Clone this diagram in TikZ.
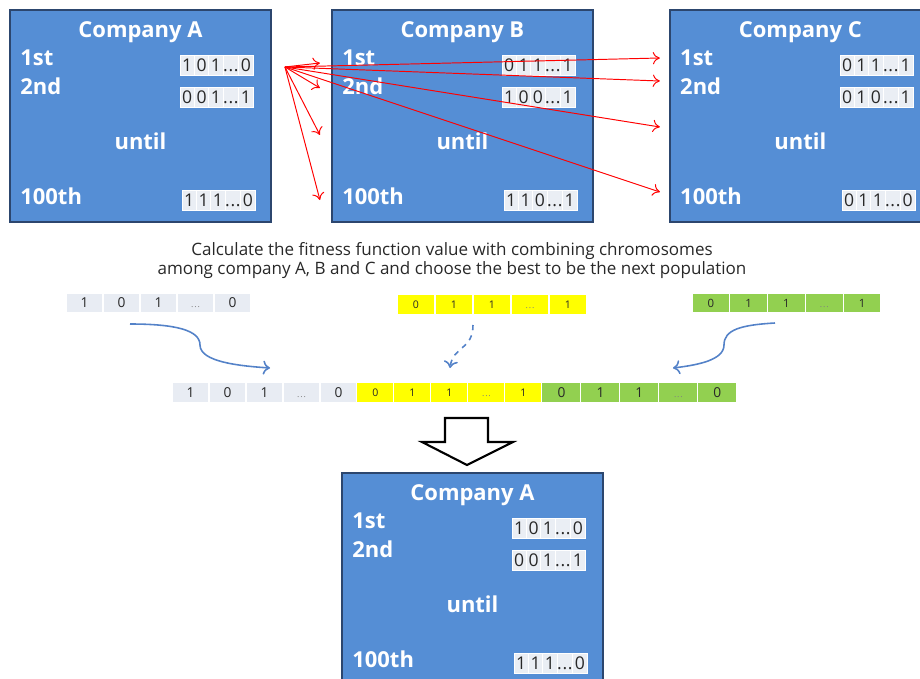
\documentclass[tikz,border=0pt]{standalone}
\usepackage{fontspec}
\setmainfont{Open Sans}
\usepackage{tikz}
\usetikzlibrary{positioning}
\usetikzlibrary{calc}
\usetikzlibrary{arrows.meta}
\definecolor{boxblue}{RGB}{85,142,213}
\definecolor{boxborder}{RGB}{44,70,110}
\definecolor{bitgray}{RGB}{234,238,244}
\definecolor{genegray}{RGB}{232,236,243}
\definecolor{genegreen}{RGB}{146,208,80}
\definecolor{geneyellow}{RGB}{255,255,0}
\definecolor{flowblue}{RGB}{84,130,200}
\definecolor{darktext}{RGB}{40,40,40}
\tikzstyle{company} = [draw=boxborder, fill=boxblue, line width=1.2pt, rectangle, minimum width=5.22cm, minimum height=4.24cm, inner sep=0pt, outer sep=0pt]
\tikzstyle{boxtext} = [text=white, font=\fontsize{12.5}{14}\selectfont\bfseries, inner sep=0pt]
\tikzstyle{bit} = [fill=bitgray, draw=white, line width=0.4pt, rectangle, minimum width=0.288cm, minimum height=0.4cm, inner sep=0pt, outer sep=0pt, text=darktext, font=\fontsize{10}{10}\selectfont]
\tikzstyle{gene} = [draw=white, line width=0.6pt, rectangle, minimum width=0.74cm, minimum height=0.4cm, inner sep=0pt, outer sep=0pt, text=darktext, font=\fontsize{7.8}{8}\selectfont]
\tikzstyle{coord} = [coordinate]
\tikzstyle{note} = [align=center, font=\fontsize{9.7}{10.8}\selectfont, text=darktext]
\tikzstyle{link} = [-{To[length=4pt,width=7pt]}, red, line width=0.55pt]
\tikzstyle{flow} = [-{To[length=4pt,width=8pt]}, flowblue, line width=0.9pt]
\tikzstyle{bigarrow} = [draw=black, fill=white, line width=1.2pt]
\newcommand{\trail}{\vphantom{0}.\kern0.4pt.\kern0.4pt.}
\newcommand{\gap}{\vphantom{0}\textcolor{gray}{\fontsize{5}{5}\selectfont .\kern0.5pt.\kern0.5pt.}}
% a row of cells: name, start, style, values
\newcommand{\bitrow}[4]{%
    \foreach \bitval [count=\i] in {#4} {
        \ifnum\i=1
            \node[#3, anchor=west] (#1-\i) at (#2) {\bitval};
        \else
            \pgfmathtruncatemacro{\j}{\i-1}
            \node[#3, right=0pt of #1-\j] (#1-\i) {\bitval};
        \fi
    }}
% labels and chromosomes inside one company box
\newcommand{\company}[5]{%
    \node[boxtext] (#1-title) at ($(#1.north)+(0,22)$) {#2};
    \node[boxtext, anchor=west] (#1-1st) at ($(#1.north west)+(10,48)$) {1st};
    \node[boxtext, anchor=west] (#1-2nd) at ($(#1.north west)+(10,76)$) {2nd};
    \node[boxtext] (#1-until) at ($(#1.north)+(0,131)$) {until};
    \node[boxtext, anchor=west] (#1-100th) at ($(#1.north west)+(10,186)$) {100th};
    \bitrow{#1-r1}{$(#1.north west)+(170,55.5)$}{bit}{#3}
    \bitrow{#1-r2}{$(#1.north west)+(170,87)$}{bit}{#4}
    \bitrow{#1-r3}{$(#1.north west)+(172,190)$}{bit}{#5}
}

\begin{document}
\begin{tikzpicture}[x=0.02cm, y=-0.02cm]
    \useasboundingbox (0,0) rectangle (920,679);
    \clip (0,0) rectangle (920,679);

    \node [company, anchor=north west] (A) at (10,10) {};
    \node [company, right = 1.22cm of A] (B) {};
    \node [company, right = 1.54cm of B] (C) {};
    \company{A}{Company A}{1,0,1,\trail,0}{0,0,1,\trail,1}{1,1,1,\trail,0}
    \company{B}{Company B}{0,1,1,\trail,1}{1,0,0,\trail,1}{1,1,0,\trail,1}
    \company{C}{Company C}{0,1,1,\trail,1}{0,1,0,\trail,1}{0,1,1,\trail,0}

    \coordinate (src) at ($(A.north east)+(14,57)$);
    \foreach \i/\dy in {1/53,2/78,3/125,4/190}
        \coordinate (B-in\i) at ($(B.north west)+(-12,\dy)$);
    \foreach \i/\dy in {1/48,2/71,3/117,4/182}
        \coordinate (C-in\i) at ($(C.north west)+(-10,\dy)$);
    \foreach \i in {1,...,4} {
        \draw [link] (src) -- (B-in\i);
        \draw [link] (src) -- (C-in\i);
    }

    \node [note] (note) at (452,261) {Calculate the fitness function value with combining chromosomes\\among company A, B and C and choose the best to be the next population};

    \bitrow{ga}{66,303}{gene, fill=genegray}{1,0,1,\gap,0}
    \bitrow{gb}{397,304.5}{gene, fill=geneyellow, minimum width=0.76cm, font=\fontsize{6}{6}\selectfont}{0,1,1,\gap,1}
    \bitrow{gc}{692,303}{gene, fill=genegreen, minimum width=0.756cm, font=\fontsize{6.5}{7}\selectfont}{0,1,1,\gap,1}

    \bitrow{mixa}{172,392.5}{gene, fill=genegray}{1,0,1,\gap,0}
    \bitrow{mixb}{mixa-5.east}{gene, fill=geneyellow, font=\fontsize{6}{6}\selectfont}{0,1,1,\gap,1}
    \bitrow{mixc}{mixb-5.east}{gene, fill=genegreen, minimum width=0.78cm}{0,1,1,\gap,0}

    \coordinate (fromA) at (130,324);
    \coordinate (bendA) at (200,345);
    \coordinate (toA) at (270,368);
    \coordinate (fromB) at (473,325);
    \coordinate (toB) at (450,368);
    \coordinate (fromC) at (775,323);
    \coordinate (bendC) at (724,345);
    \coordinate (toC) at (673,368);
    \draw [flow] (fromA) .. controls +(45,0) and +(0,-15) .. (bendA) .. controls +(0,17) and +(-30,-2) .. (toA);
    \draw [flow, dashed] (fromB) .. controls +(0,25) and +(3,-22) .. (toB);
    \draw [flow] (fromC) .. controls +(-35,2) and +(0,-15) .. (bendC) .. controls +(0,15) and +(25,-3) .. (toC);

    \draw [bigarrow] (445,418) -- (488,418) -- (488,442) -- (513,442) -- (467,465) -- (422,442) -- (445,442) -- cycle;

    \node [company, anchor=north west] (D) at (342,473) {};
    \company{D}{Company A}{1,0,1,\trail,0}{0,0,1,\trail,1}{1,1,1,\trail,0}
\end{tikzpicture}
\end{document}
